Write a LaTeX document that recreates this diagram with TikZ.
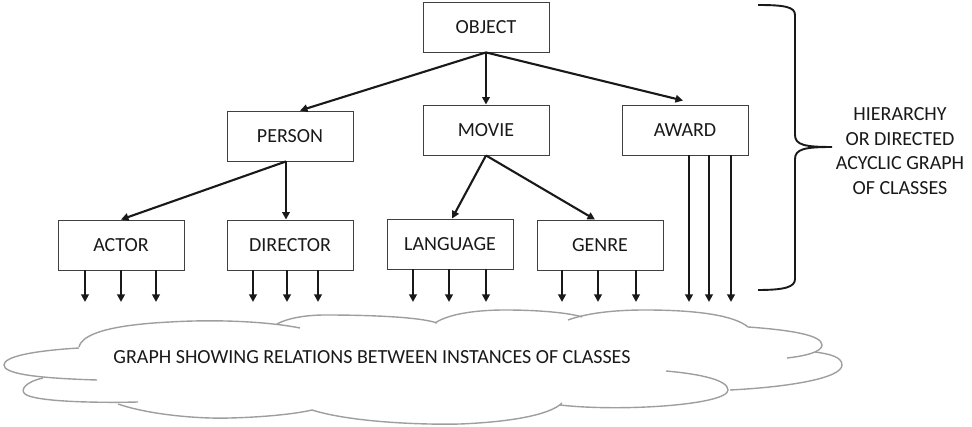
\documentclass[tikz,border=0pt]{standalone}
\usepackage{fontspec}
\setmainfont{Carlito}
\usepackage{tikz}
\usetikzlibrary{arrows, arrows.meta}

\begin{document}
\begin{tikzpicture}[x=1pt, y=1pt,
	cls/.style={rectangle, draw=black!75, line width=0.9pt, minimum width=126pt, minimum height=50pt, inner sep=0pt, text=black!90},
	isa/.style={-{Triangle[length=7.5pt, width=7.5pt]}, line width=2.1pt, black!90},
	puff/.style={draw=black!38, line width=1.4pt},
	every node/.style={font=\fontsize{20pt}{24.5pt}\selectfont}]
	\useasboundingbox (0,0) rectangle (972,427);

	% class boxes
	\node[cls](object) at (486,400){OBJECT};
	\node[cls](person) at (290,291){PERSON};
	\node[cls](movie) at (486,297){MOVIE};
	\node[cls](award) at (685,297){AWARD};
	\node[cls](actor) at (121,182){ACTOR};
	\node[cls](director) at (290,182){DIRECTOR};
	\node[cls](language) at (450,183){LANGUAGE};
	\node[cls](genre) at (600,182){GENRE};

	\draw[isa](object.south) -- ([xshift=10pt]person.north);
	\draw[isa](object.south) -- (movie.north);
	\draw[isa](object.south) -- ([xshift=-2pt, yshift=4pt]award.north);
	\draw[isa]([xshift=-4pt]person.south) -- (actor.north);
	\draw[isa]([xshift=-4pt]person.south) -- ([xshift=-4pt]director.north);
	\draw[isa](movie.south) -- ([xshift=2pt]language.north);
	\draw[isa](movie.south) -- ([xshift=-5pt]genre.north);

	% links down into the instance graph
	\coordinate (base) at (0,125);
	\foreach \dx in {-36,0,35}
		\draw[isa]([xshift=\dx]actor.south) -- ([xshift=\dx]actor.south |- base);
	\foreach \dx in {-37,-3,28}
		\draw[isa]([xshift=\dx]director.south) -- ([xshift=\dx]director.south |- base);
	\foreach \dx in {-37,-1,36}
		\draw[isa]([xshift=\dx]language.south) -- ([xshift=\dx]language.south |- base);
	\foreach \dx in {-38,-2,36}
		\draw[isa]([xshift=\dx]genre.south) -- ([xshift=\dx]genre.south |- base);
	\foreach \dx in {4,24,46}
		\draw[isa]([xshift=\dx]award.south) -- ([xshift=\dx]award.south |- base);

	% brace
	\draw[line width=1.9pt, black!90] (758,422) .. controls (785,422) and (795,420) .. (795,412) -- (795,292)
		.. controls (795,282) and (805,280) .. (832,280) .. controls (805,280) and (795,278) .. (795,268) -- (795,148)
		.. controls (795,140) and (785,137) .. (758,137);
	\node[align=center, text=black!90](hierarchy) at (900,276){HIERARCHY\\OR DIRECTED\\ACYCLIC GRAPH\\OF CLASSES};

	% cloud
	\draw[puff] (79,80) .. controls (82,93) and (110,102) .. (170,105) .. controls (220,108) and (270,105) .. (300,99);
	\draw[puff] (277,103) .. controls (290,110) and (310,112) .. (325,112) .. controls (370,112) and (420,110) .. (437,104);
	\draw[puff] (435,104) .. controls (450,114) and (480,117) .. (505,117) .. controls (540,117) and (570,114) .. (582,110);
	\draw[puff] (568,107) .. controls (590,115) and (620,117) .. (645,117) .. controls (700,117) and (735,111) .. (748,100);
	\draw[puff] (748,100) .. controls (790,97) and (822,92) .. (822,82) .. controls (822,75) and (805,71) .. (787,69);
	\draw[puff] (730,37) .. controls (790,40) and (842,49) .. (842,62) .. controls (842,70) and (830,73) .. (815,75);
	\draw[puff] (560,22) .. controls (620,15) and (728,22) .. (728,37) .. controls (728,47) and (700,53) .. (666,56);
	\draw[puff] (312,17) .. controls (350,5) and (420,2) .. (460,3) .. controls (510,5) and (550,12) .. (562,24);
	\draw[puff] (118,23) .. controls (150,12) and (200,8) .. (230,9) .. controls (270,10) and (300,14) .. (312,17);
	\draw[puff] (43,49) .. controls (25,45) and (20,37) .. (25,33) .. controls (35,25) and (100,24) .. (138,25);
	\draw[puff] (79,79) .. controls (30,76) and (4,70) .. (4,62) .. controls (4,54) and (30,49) .. (97,47);
	\node[text=black!90](relations) at (372,70){GRAPH SHOWING RELATIONS BETWEEN INSTANCES OF CLASSES};
\end{tikzpicture}
\end{document}
